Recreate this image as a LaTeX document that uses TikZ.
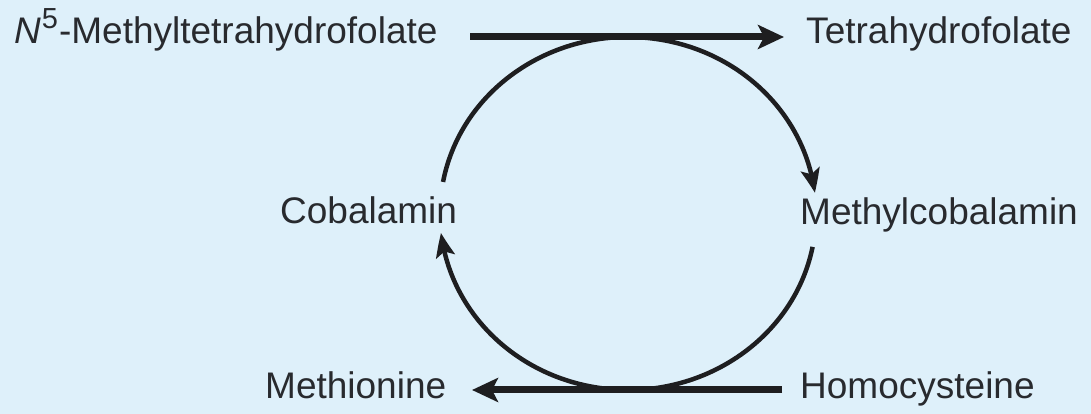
\documentclass[tikz,border=0pt]{standalone}
\usepackage{fontspec}
\setmainfont{Liberation Sans}
\usetikzlibrary{arrows.meta,bending}
\definecolor{bgblue}{RGB}{222,240,250}
\definecolor{ink}{RGB}{30,30,32}
\definecolor{txt}{RGB}{40,42,46}
\tikzset{
  lbl/.style={anchor=base west, inner sep=0pt, text=txt, font=\fontsize{37}{44}\selectfont},
  flow/.style={draw=ink, line width=7pt, -{Stealth[length=26pt,width=24pt,inset=6pt]}},
  cyc/.style={draw=ink, line width=4.5pt, -{Stealth[length=24pt,width=19pt,inset=5pt,bend]}}
}
\begin{document}
\begin{tikzpicture}[x=1pt,y=1pt]
\fill[bgblue] (0,0) rectangle (1091,414);
\useasboundingbox (0,0) rectangle (1091,414);
% labels
\node[lbl] (mthf) at (14,370) {\textit{N\/}\kern1pt\raisebox{0.42em}{\fontsize{29}{30}\selectfont 5}\kern1pt-Methyltetrahydrofolate};
\node[lbl] (thf) at (806,370) {Tetrahydrofolate};
\node[lbl] (cob) at (280,190) {Cobalamin};
\node[lbl] (mcob) at (800,189) {Methylcobalamin};
\node[lbl] (met) at (265,15) {Methionine};
\node[lbl] (hcy) at (800,15) {Homocysteine};
% straight connectors
\coordinate (t1) at (470,377);
\coordinate (t2) at (784,377);
\coordinate (b1) at (782,24);
\coordinate (b2) at (472,24);
\draw[flow] (t1) -- (t2);
\draw[flow] (b1) -- (b2);
% cycle arcs (ellipse centre (628,200.5))
\coordinate (c) at (628,200.5);
\draw[cyc] ([shift={(169.7:188pt and 176.5pt)}]c) arc[start angle=169.7, end angle=6.7, x radius=188pt, y radius=176.5pt];
\draw[cyc] ([shift={(-10.9:188pt and 176.5pt)}]c) arc[start angle=-10.9, end angle=-173.7, x radius=188pt, y radius=176.5pt];
\end{tikzpicture}
\end{document}
